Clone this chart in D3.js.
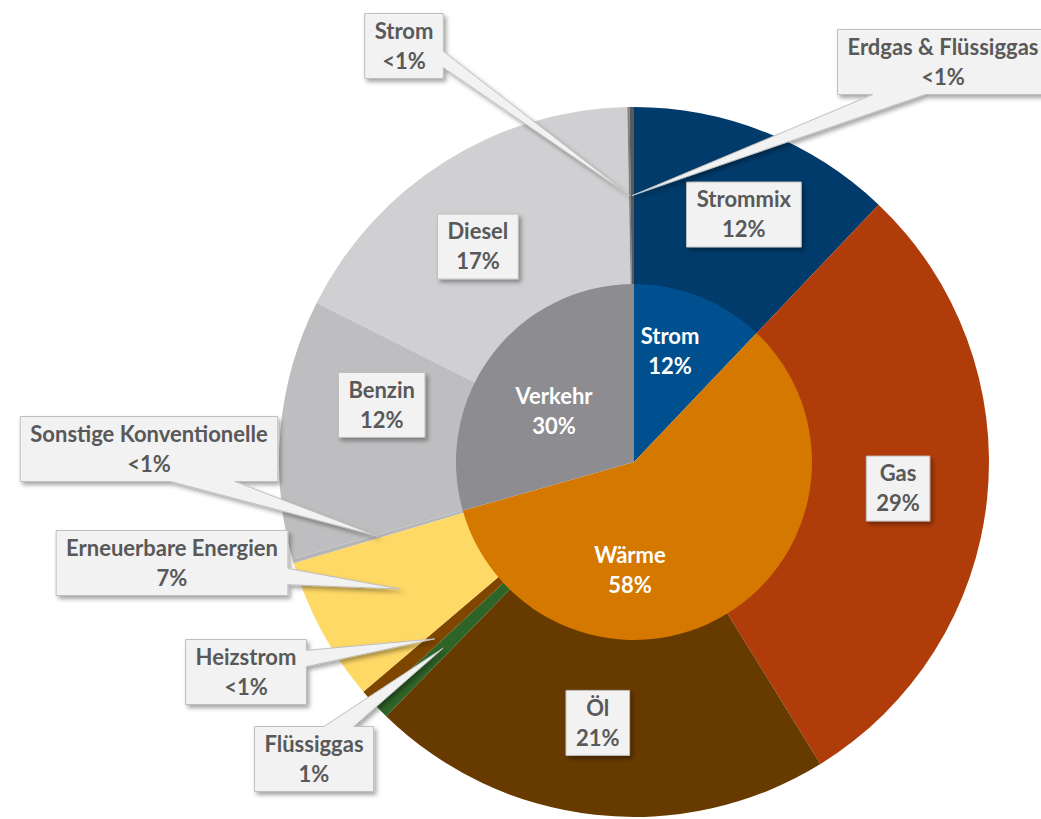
<!DOCTYPE html>
<html lang="de">
<head>
<meta charset="UTF-8">
<title>Energieverbrauch</title>
<script src="https://d3js.org/d3.v7.min.js"></script>
<style>
  html, body { margin: 0; padding: 0; background: #fff; }
  svg { display: block; font-family: Lato, "Open Sans", sans-serif; font-weight: bold; }
  .lbl { fill: #595959; font-size: 22px; }
  .inner-lbl { fill: #fff; font-size: 22px; }
</style>
</head>
<body>
<svg id="chart" width="1041" height="819"></svg>
<script>
// inner ring: sectors
const groups = ["Strom", "Wärme", "Verkehr"];
const groupLabels = ["12%", "58%", "30%"];
const groupColors = ["#00508f", "#d47800", "#8d8c91"];

// outer ring: energy carriers, clockwise from 12 o'clock
const sources = ["Strommix", "Gas", "Öl", "Flüssiggas", "Heizstrom", "Erneuerbare Energien",
  "Sonstige Konventionelle", "Benzin", "Diesel", "Strom", "Erdgas & Flüssiggas"];
const sourceGroup = ["Strom", "Wärme", "Wärme", "Wärme", "Wärme", "Wärme",
  "Wärme", "Verkehr", "Verkehr", "Verkehr", "Verkehr"];
const sourceValues = [12.1, 29.1, 21.1, 0.8, 0.7, 6.6, 0.2, 11.8, 17.3, 0.1, 0.2];
const sourceLabels = ["12%", "29%", "21%", "1%", "<1%", "7%", "<1%", "12%", "17%", "<1%", "<1%"];
const sourceColors = ["#003b6b", "#b03c0a", "#673a00", "#2e6428", "#7f4600", "#ffd966",
  "#b6b6b8", "#bebec0", "#d0d0d2", "#7f7f7f", "#5a5a5a"];

const width = 1041, height = 819;
const cx = 634, cy = 462;
const rOuter = 355, rInner = 178;

// layout: callout boxes placed by hand, others nudged from the slice centroid
const calloutBox = {
  "Strom": [404, 46],
  "Erdgas & Flüssiggas": [943, 62],
  "Sonstige Konventionelle": [149, 449],
  "Erneuerbare Energien": [172, 563],
  "Heizstrom": [246, 672],
  "Flüssiggas": [314, 759]
};
const nudge = {
  "Strommix": [11, 0], "Gas": [-1, -1], "Öl": [-7, -4], "Benzin": [13, -32], "Diesel": [-14, 10]
};
const innerNudge = [[3, -28], [-50, 32], [-9, 3]];

const svg = d3.select("#chart");

const defs = svg.append("defs");
const f = defs.append("filter").attr("id", "shadow")
  .attr("x", "-20%").attr("y", "-20%").attr("width", "150%").attr("height", "160%");
f.append("feDropShadow").attr("dx", 2.5).attr("dy", 3).attr("stdDeviation", 2)
  .attr("flood-color", "#000").attr("flood-opacity", 0.35);

const g = svg.append("g").attr("transform", `translate(${cx},${cy})`);

const pie = d3.pie().sort(null).value(d => d.value).startAngle(0).endAngle(2 * Math.PI);

const outerData = sources.map((s, i) => ({
  name: s, group: sourceGroup[i], value: sourceValues[i], label: sourceLabels[i], color: sourceColors[i]
}));
const sums = d3.rollup(outerData, v => d3.sum(v, d => d.value), d => d.group);
const innerData = groups.map((s, i) => ({
  name: s, value: sums.get(s), label: groupLabels[i], color: groupColors[i]
}));

const outerArcs = pie(outerData);
const innerArcs = pie(innerData);

const arcOuter = d3.arc().innerRadius(rInner - 1).outerRadius(rOuter);
const arcMid = d3.arc().innerRadius(rInner).outerRadius(rOuter);
const arcInner = d3.arc().innerRadius(0).outerRadius(rInner);

g.selectAll("path.ring").data(outerArcs).join("path")
  .attr("class", "ring")
  .attr("d", arcOuter)
  .attr("fill", d => d.data.color);

g.selectAll("path.core").data(innerArcs).join("path")
  .attr("class", "core")
  .attr("d", arcInner)
  .attr("fill", d => d.data.color);

// white labels on the inner pie
innerArcs.forEach((a, i) => {
  const [x, y] = arcInner.centroid(a);
  const t = g.append("text").attr("class", "inner-lbl").attr("text-anchor", "middle")
    .attr("transform", `translate(${x + innerNudge[i][0]},${y + innerNudge[i][1]})`);
  t.append("tspan").attr("x", 0).attr("y", -15).attr("dy", "0.35em").text(a.data.name);
  t.append("tspan").attr("x", 0).attr("y", 15).attr("dy", "0.35em").text(a.data.label);
});

// Excel style wedge callout, box (x,y,w,h), tip (tx,ty)
function calloutPath(x, y, w, h, tx, ty) {
  const l = x, t = y, r = x + w, b = y + h;
  if (tx == null) return `M${l},${t}H${r}V${b}H${l}Z`;
  const dx = tx - (x + w / 2), dy = ty - (y + h / 2);
  const vertical = Math.abs(dy) - Math.abs(dx * h / w) > 0;
  const xa = x + w * (dx > 0 ? 7 : 2) / 12, xb = x + w * (dx > 0 ? 10 : 5) / 12;
  const ya = y + h * (dy > 0 ? 7 : 2) / 12, yb = y + h * (dy > 0 ? 10 : 5) / 12;
  let p = `M${l},${t}`;
  if (vertical && dy < 0) p += `L${xa},${t}L${tx},${ty}L${xb},${t}`;
  p += `L${r},${t}`;
  if (!vertical && dx > 0) p += `L${r},${ya}L${tx},${ty}L${r},${yb}`;
  p += `L${r},${b}`;
  if (vertical && dy > 0) p += `L${xb},${b}L${tx},${ty}L${xa},${b}`;
  p += `L${l},${b}`;
  if (!vertical && dx < 0) p += `L${l},${yb}L${tx},${ty}L${l},${ya}`;
  return p + "Z";
}

const boxes = svg.append("g");
outerArcs.forEach(a => {
  const d = a.data;
  let bx, by, tip = null;
  if (calloutBox[d.name]) {
    [bx, by] = calloutBox[d.name];
    const mid = (a.startAngle + a.endAngle) / 2;
    const rt = (rInner + rOuter) / 2;
    tip = [cx + rt * Math.sin(mid), cy - rt * Math.cos(mid)];
  } else {
    const [x, y] = arcMid.centroid(a);
    const n = nudge[d.name] || [0, 0];
    bx = cx + x + n[0];
    by = cy + y + n[1];
  }
  const grp = boxes.append("g");
  const path = grp.append("path");
  const t = grp.append("text").attr("class", "lbl").attr("text-anchor", "middle");
  t.append("tspan").attr("x", bx).attr("y", by - 15).attr("dy", "0.35em").text(d.name);
  t.append("tspan").attr("x", bx).attr("y", by + 15).attr("dy", "0.35em").text(d.label);
  const tw = t.node().getBBox().width;
  const w = Math.max(tw + 20, 60), h = 65;
  path.attr("d", tip ? calloutPath(bx - w / 2, by - h / 2, w, h, tip[0], tip[1])
                     : calloutPath(bx - w / 2, by - h / 2, w, h))
    .attr("fill", "#f2f2f2")
    .attr("stroke", "#bfbfbf")
    .attr("stroke-width", 1)
    .attr("filter", "url(#shadow)");
});
</script>
</body>
</html>
